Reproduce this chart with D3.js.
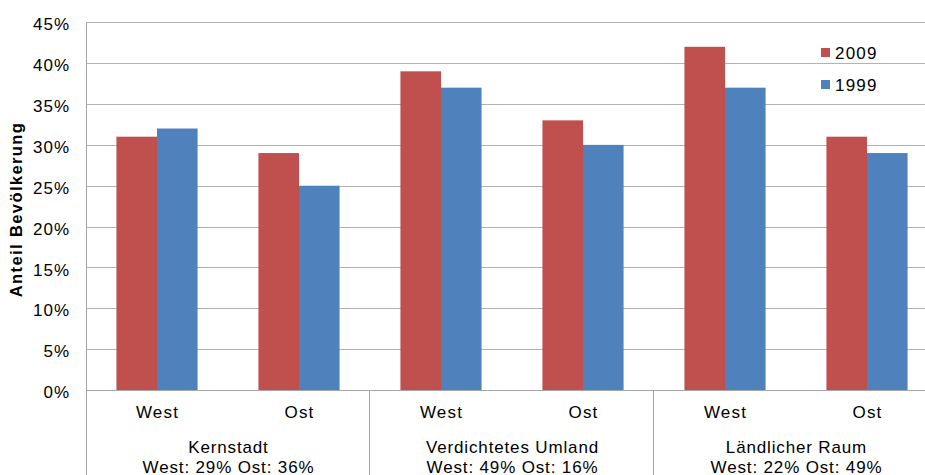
<!DOCTYPE html>
<html>
<head>
<meta charset="utf-8">
<script src="https://cdn.jsdelivr.net/npm/d3@7/dist/d3.min.js"></script>
<style>
  html, body { margin: 0; padding: 0; background: #fff; }
  svg { display: block; font-family: "Liberation Sans", Arial, sans-serif; }
</style>
</head>
<body>
<svg id="chart" width="925" height="475"></svg>
<script>
// Region groups and their sub-categories
const groups = ["Kernstadt", "Verdichtetes Umland", "Ländlicher Raum"];
const groupNotes = ["West: 29% Ost: 36%", "West: 49% Ost: 16%", "West: 22% Ost: 49%"];
const subCategories = ["West", "Ost"];
const seriesNames = ["2009", "1999"];
const seriesColors = ["#C0504D", "#4F81BD"];
// Share of population (%) per bar, in group/sub-category order
const values2009 = [31, 29, 39, 33, 42, 31];
const values1999 = [32, 25, 37, 30, 37, 29];
const yTicks = [0, 5, 10, 15, 20, 25, 30, 35, 40, 45];

const svg = d3.select("#chart");
const W = 925, H = 475;
const plotLeft = 86, plotRight = 938, plotTop = 22.3, plotBottom = 390;
const FS = 17, LS = 1;

const categories = [];
groups.forEach(g => subCategories.forEach(s => categories.push(g + "|" + s)));

const x = d3.scaleBand().domain(categories).range([plotLeft, plotRight]).paddingInner(0).paddingOuter(0);
const y = d3.scaleLinear().domain([0, 45]).range([plotBottom, plotTop]);

// Gridlines
svg.append("g").selectAll("line").data(yTicks).join("line")
  .attr("x1", plotLeft).attr("x2", plotRight)
  .attr("y1", d => Math.round(y(d)) + 0.5).attr("y2", d => Math.round(y(d)) + 0.5)
  .attr("stroke", "#b3b3b3").attr("stroke-width", 1);

// Y axis tick labels
const yAxis = d3.axisLeft(y).tickValues(yTicks).tickFormat(d => d + "%").tickSize(0).tickPadding(16);
const ya = svg.append("g").attr("transform", `translate(${plotLeft},0)`).call(yAxis);
ya.select(".domain").remove();
ya.selectAll("text").attr("font-size", FS).attr("letter-spacing", LS).attr("fill", "#000")
  .attr("dy", "0.45em")
  .attr("font-family", "Liberation Sans, Arial, sans-serif");

// Bars
const band = x.bandwidth();
const barW = band / 3.5;
const series = [values2009, values1999];
series.forEach((vals, si) => {
  svg.append("g").selectAll("rect").data(vals).join("rect")
    .attr("x", (d, i) => x(categories[i]) + band / 2 - barW + si * barW)
    .attr("width", barW)
    .attr("y", d => y(d))
    .attr("height", d => y(0) - y(d))
    .attr("fill", seriesColors[si]);
});

// Axis lines: left vertical axis running to the bottom, baseline, group separators
svg.append("line").attr("x1", plotLeft + 0.5).attr("x2", plotLeft + 0.5).attr("y1", plotTop).attr("y2", H)
  .attr("stroke", "#a6a6a6");
svg.append("line").attr("x1", plotLeft).attr("x2", plotRight).attr("y1", plotBottom + 0.5).attr("y2", plotBottom + 0.5)
  .attr("stroke", "#a6a6a6");
const groupW = (plotRight - plotLeft) / groups.length;
groups.forEach((g, gi) => {
  if (gi === 0) return;
  const gx = Math.round(plotLeft + gi * groupW) - 0.5;
  svg.append("line").attr("x1", gx).attr("x2", gx).attr("y1", plotBottom).attr("y2", H)
    .attr("stroke", "#a6a6a6");
});

// Sub-category labels
svg.append("g").selectAll("text").data(categories).join("text")
  .attr("x", d => x(d) + band / 2 + LS / 2)
  .attr("y", 418)
  .attr("text-anchor", "middle")
  .attr("font-size", FS).attr("letter-spacing", 1.2)
  .text(d => d.split("|")[1]);

// Group labels (two lines)
const gl = svg.append("g").selectAll("text").data(groups).join("text")
  .attr("text-anchor", "middle")
  .attr("font-size", FS).attr("letter-spacing", 0.85);
gl.append("tspan").attr("x", (d, i) => plotLeft + (i + 0.5) * groupW + 0.5).attr("y", 452.8).text(d => d);
gl.append("tspan").attr("x", (d, i) => plotLeft + (i + 0.5) * groupW + 0.5).attr("y", 472.8).text((d, i) => groupNotes[i]);

// Y axis title
svg.append("text")
  .attr("transform", `translate(21.5,209.5) rotate(-90)`)
  .attr("text-anchor", "middle")
  .attr("font-size", 16.5).attr("font-weight", "bold").attr("letter-spacing", 1.4)
  .text("Anteil Bevölkerung");

// Legend
const legend = svg.append("g").selectAll("g").data(seriesNames).join("g")
  .attr("transform", (d, i) => `translate(821,${48 + i * 32})`);
legend.append("rect").attr("width", 9).attr("height", 9).attr("fill", (d, i) => seriesColors[i]);
legend.append("text").attr("x", 14).attr("y", 10.5).attr("font-size", FS).attr("letter-spacing", 1.2).text(d => d);
</script>
</body>
</html>
